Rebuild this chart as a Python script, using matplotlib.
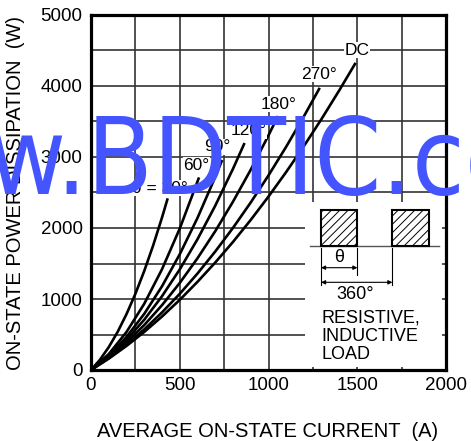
import matplotlib
matplotlib.use('Agg')
from matplotlib import pyplot as plt
from matplotlib import font_manager
from matplotlib.patches import Rectangle

plt.rcParams['font.family'] = ['Liberation Sans', 'DejaVu Sans']

# average on-state current (A) / power dissipation (W)
i_30 = [0, 50, 100, 150, 200, 250, 300, 350, 400, 430]
p_30 = [0, 143, 322, 536, 787, 1073, 1395, 1753, 2147, 2400]

i_60 = [0, 100, 200, 300, 400, 500, 606]
p_60 = [0, 224, 535, 933, 1419, 1992, 2695]

i_90 = [0, 100, 200, 300, 400, 500, 600, 700, 736]
p_90 = [0, 201, 465, 791, 1179, 1630, 2142, 2718, 2940]

i_120 = [0, 100, 200, 300, 400, 500, 600, 700, 800, 862]
p_120 = [0, 189, 425, 708, 1039, 1417, 1842, 2314, 2834, 3180]

i_180 = [0, 100, 200, 300, 400, 500, 600, 700, 800, 900, 1000, 1050]
p_180 = [0, 177, 388, 633, 913, 1226, 1574, 1955, 2371, 2821, 3305, 3560]

i_270 = [0, 100, 200, 300, 400, 500, 600, 700, 800, 900, 1000, 1100, 1200, 1285]
p_270 = [0, 167, 358, 572, 811, 1073, 1359, 1669, 2002, 2360, 2741, 3146, 3575, 3958]

i_dc = [0, 100, 200, 300, 400, 500, 600, 700, 800, 900, 1000, 1100, 1200, 1300, 1400, 1487]
p_dc = [0, 160, 339, 536, 753, 988, 1242, 1514, 1804, 2114, 2443, 2790, 3156, 3540, 3944, 4310]

curve_labels = ['θ = 30°', '60°', '90°', '120°', '180°', '270°', 'DC']
label_xy = [(389, 2560), (595, 2880), (712, 3145), (885, 3370),
            (1054, 3746), (1285, 4169), (1499, 4507)]

x_ticks = [0, 500, 1000, 1500, 2000]
y_ticks = [0, 1000, 2000, 3000, 4000, 5000]

fig = plt.figure(figsize=(4.71, 4.41), dpi=100)
ax = fig.add_axes([91/471, 71/441, 355/471, 355/441])

ax.set_xlim(0, 2000)
ax.set_ylim(0, 5000)
ax.set_xticks(x_ticks)
ax.set_yticks(y_ticks)
ax.set_xticks(range(250, 2000, 500), minor=True)
ax.set_yticks(range(500, 5000, 1000), minor=True)
ax.tick_params(which='both', length=0, labelsize=13.5)
ax.tick_params(axis='x', pad=5)
ax.tick_params(axis='y', pad=6)
ax.set_axisbelow(True)
ax.grid(which='both', color='#333333', lw=1.2)
for s in ax.spines.values():
    s.set_linewidth(2.3)
    s.set_zorder(10)

ax.set_xlabel('AVERAGE ON-STATE CURRENT  (A)', fontsize=14.5)
ax.set_ylabel('ON-STATE POWER DISSIPATION  (W)', fontsize=14.5)
ax.xaxis.set_label_coords(0.497, -0.146)
ax.yaxis.set_label_coords(-0.185, 0.5)

# white panel hiding the grid behind the waveform sketch
ax.add_patch(Rectangle((1206, 42), 770, 2324, fc='white', ec='none', zorder=1))

curves = [(i_30, p_30), (i_60, p_60), (i_90, p_90), (i_120, p_120),
          (i_180, p_180), (i_270, p_270), (i_dc, p_dc)]
for (xs, ys), lab, (tx, ty) in zip(curves, curve_labels, label_xy):
    ax.plot(xs, ys, color='black', lw=1.9, zorder=3)
    ax.text(tx, ty, lab, fontsize=12.5, ha='center', va='center', zorder=4,
            bbox=dict(fc='white', ec='none', pad=0.5))

# waveform inset
plt.rcParams['hatch.linewidth'] = 0.7
ax.plot([1234, 1962], [1751, 1751], color='#555555', lw=1.0, zorder=3)
for x0 in (1296, 1698):
    ax.add_patch(Rectangle((x0, 1751), 205, 503, fill=False, hatch='////',
                           ec='black', lw=1.5, zorder=3))
ax.plot([1296, 1296], [1714, 1197], color='black', lw=0.8, zorder=3)
ax.plot([1501, 1501], [1714, 1338], color='black', lw=0.8, zorder=3)
ax.plot([1698, 1698], [1714, 1197], color='black', lw=0.8, zorder=3)
ax.annotate('', xy=(1296, 1441), xytext=(1501, 1441), zorder=3,
            arrowprops=dict(arrowstyle='<|-|>', lw=0.8, color='black',
                            mutation_scale=6, shrinkA=0, shrinkB=0))
ax.annotate('', xy=(1296, 1235), xytext=(1698, 1235), zorder=3,
            arrowprops=dict(arrowstyle='<|-|>', lw=0.8, color='black',
                            mutation_scale=6, shrinkA=0, shrinkB=0))
ax.text(1399, 1590, 'θ', fontsize=13, ha='center', va='center', zorder=3)
ax.text(1487, 1066, '360°', fontsize=13, ha='center', va='center', zorder=3)
ax.text(1296, 470, 'RESISTIVE,\nINDUCTIVE\nLOAD', fontsize=13, ha='left',
        va='center', linespacing=1.1, zorder=3)

# watermark: narrow face if one is installed, else a smaller regular one
narrow = None
for f in font_manager.fontManager.ttflist:
    fn = f.fname.lower()
    if ('narrow' in fn or 'condensed' in fn) and 'sans' in fn and \
            not any(k in fn for k in ('bold', 'italic', 'oblique', 'mono')):
        if narrow is None or 'liberation' in fn:
            narrow = f.fname
if narrow is not None and 'liberation' in narrow.lower():
    wm = dict(fontproperties=font_manager.FontProperties(fname=narrow, size=76))
    wm_x = -122
elif narrow is not None:
    wm = dict(fontproperties=font_manager.FontProperties(fname=narrow, size=77))
    wm_x = -169
else:
    wm = dict(family='Liberation Sans', fontsize=70)
    wm_x = -140
fig.text(wm_x/471, (441-194)/441, 'www.BDTIC.com', color='#4455ff',
         va='baseline', ha='left', **wm)

fig.savefig('out.png', dpi=100)
